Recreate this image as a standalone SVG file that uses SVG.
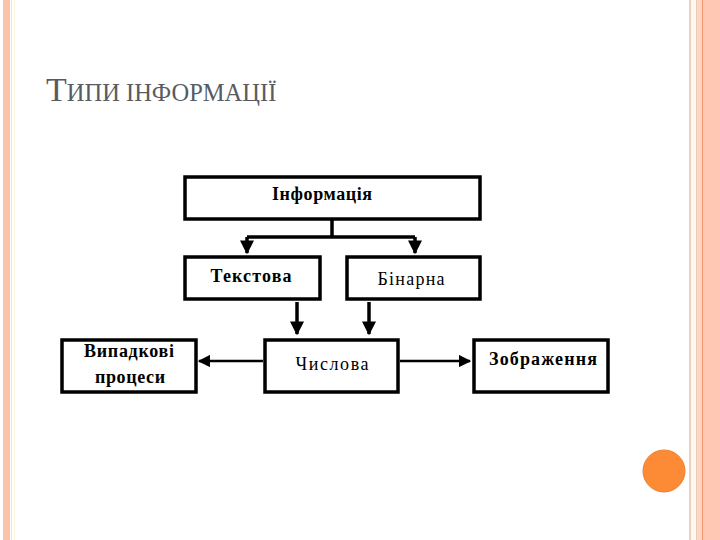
<svg xmlns="http://www.w3.org/2000/svg" width="720" height="540" viewBox="0 0 720 540">
<defs>
<style>
.box{fill:#fff;stroke:#000;stroke-width:3.5}
.lbl{font-family:"Liberation Serif","DejaVu Serif",serif;font-size:18px;fill:#000;text-anchor:middle}
.b{font-weight:bold}
.con{stroke:#000;stroke-width:3.5;fill:none}
.thin{stroke:#000;stroke-width:2.5;fill:none}
</style>
<marker id="ah" viewBox="0 0 10 10" refX="9" refY="5" markerWidth="4" markerHeight="4" markerUnits="strokeWidth" orient="auto">
<path d="M0,0 L10,5 L0,10 z" fill="#000"/>
</marker>
<marker id="ah2" viewBox="0 0 10 10" refX="9" refY="5" markerWidth="5" markerHeight="5" markerUnits="strokeWidth" orient="auto">
<path d="M0,0 L10,5 L0,10 z" fill="#000"/>
</marker>
</defs>
<rect width="720" height="540" fill="#fff"/>
<!-- left border -->
<rect x="3" y="0" width="7" height="540" fill="#FDC3A8"/>
<rect x="11" y="0" width="1" height="540" fill="#F3E3E8"/>
<rect x="14" y="0" width="1" height="540" fill="#FBF6DC"/>
<!-- right border -->
<rect x="689" y="0" width="2" height="540" fill="#EBCFC0"/>
<rect x="691" y="0" width="5" height="540" fill="#FFF8EC"/>
<rect x="696" y="0" width="1.5" height="540" fill="#EDC8B4"/>
<rect x="697.5" y="0" width="5" height="540" fill="#FDD5C3"/>
<rect x="702" y="0" width="1.5" height="540" fill="#F59470"/>
<rect x="703.5" y="0" width="16.5" height="540" fill="#FFC8B4"/>
<!-- title -->
<text x="46" y="101" font-family="'Liberation Serif','DejaVu Serif',serif" fill="#585C62"><tspan font-size="34">Т</tspan><tspan font-size="24.5">ИПИ ІНФОРМАЦІЇ</tspan></text>
<!-- circle -->
<circle cx="664" cy="471" r="21" fill="#FD8A35" stroke="#F08030" stroke-width="1"/>
<!-- connectors -->
<g id="connectors">
<path class="con" d="M332,220 V237"/>
<path class="con" d="M247,237 H415"/>
<path class="con" d="M247,237 V253" marker-end="url(#ah)"/>
<path class="con" d="M415,237 V253" marker-end="url(#ah)"/>
<path class="con" d="M297,302 V334" marker-end="url(#ah)"/>
<path class="con" d="M369,302 V334" marker-end="url(#ah)"/>
<path class="thin" d="M263,361 H199" marker-end="url(#ah2)"/>
<path class="thin" d="M400,361 H470" marker-end="url(#ah2)"/>
</g>
<g id="n-info"><rect class="box" x="185" y="177" width="295" height="42"/><text class="lbl b" x="322" y="200" textLength="100" lengthAdjust="spacing">Інформація</text></g>
<g id="n-text"><rect class="box" x="185" y="257" width="135" height="42"/><text class="lbl b" x="251" y="282" textLength="81" lengthAdjust="spacing">Текстова</text></g>
<g id="n-bin"><rect class="box" x="347" y="257" width="133" height="42"/><text class="lbl" x="411" y="285" textLength="67" lengthAdjust="spacing">Бінарна</text></g>
<g id="n-rand"><rect class="box" x="62" y="340" width="134" height="52"/><text class="lbl b" x="129" y="357" textLength="90" lengthAdjust="spacing">Випадкові</text><text class="lbl b" x="130" y="383" textLength="70" lengthAdjust="spacing">процеси</text></g>
<g id="n-num"><rect class="box" x="265" y="340" width="133" height="52"/><text class="lbl" x="332" y="370" textLength="73" lengthAdjust="spacing">Числова</text></g>
<g id="n-img"><rect class="box" x="474" y="340" width="134" height="52"/><text class="lbl b" x="543" y="365" textLength="108" lengthAdjust="spacing">Зображення</text></g>
</svg>
